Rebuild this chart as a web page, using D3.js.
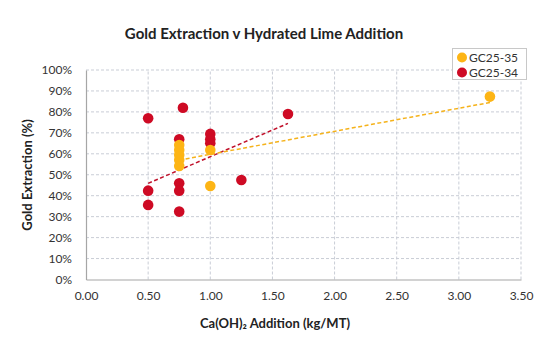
<!DOCTYPE html>
<html><head><meta charset="utf-8">
<script src="https://cdn.jsdelivr.net/npm/d3@7"></script>
<style>body{margin:0;background:#fff}svg{display:block}text{font-family:Lato,"Open Sans",sans-serif}</style>
</head><body><svg id="c" width="550" height="344"></svg>
<script>
const xTicks = [0,0.5,1,1.5,2,2.5,3,3.5];
const yTicks = [0,10,20,30,40,50,60,70,80,90,100];
const seriesNames = ["GC25-35","GC25-34"];
const seriesColors = ["#FDB515","#CE0A24"];
const gc35x = [0.75,0.75,0.75,0.75,0.75,1.0,1.0,3.25];
const gc35y = [64.2,61.8,59.4,57.0,54.2,61.8,44.6,87.3];
const gc34x = [0.5,0.5,0.5,0.78,0.75,0.75,0.75,0.75,1.0,1.0,1.0,1.25,1.625];
const gc34y = [77.0,42.4,35.6,82.0,66.9,45.9,42.4,32.4,69.5,67.0,65.0,47.5,79.0];
const trend35x = [0.75,3.25], trend35y = [57.0,84.5];
const trend34x = [0.5,1.625], trend34y = [45.9,74.5];

const svg = d3.select("#c");
const x = d3.scaleLinear().domain([0,3.5]).range([86,521]);
const y = d3.scaleLinear().domain([0,100]).range([279.5,70]);

// title
svg.append("text").attr("x",264).attr("y",39).attr("text-anchor","middle")
  .attr("font-size",15).attr("font-weight","bold").attr("fill","#222").text("Gold Extraction v Hydrated Lime Addition");

// grid
const grid = svg.append("g");
grid.selectAll("line.h").data(yTicks.filter(d=>d>0)).join("line")
  .attr("x1",x(0)).attr("x2",x(3.5)).attr("y1",d=>y(d)).attr("y2",d=>y(d))
  .attr("stroke","#c9cdd6").attr("stroke-width",1).attr("stroke-dasharray","3,2");
grid.selectAll("line.v").data(xTicks.filter(d=>d>0)).join("line")
  .attr("x1",d=>x(d)).attr("x2",d=>x(d)).attr("y1",y(0)).attr("y2",y(100))
  .attr("stroke","#c9cdd6").attr("stroke-width",1).attr("stroke-dasharray","3,2");

// axes
const xa = svg.append("g").attr("transform",`translate(0,${y(0)})`)
  .call(d3.axisBottom(x).tickValues(xTicks).tickFormat(d3.format(".2f")).tickSize(0).tickPadding(12));
const ya = svg.append("g").attr("transform",`translate(${x(0)},0)`)
  .call(d3.axisLeft(y).tickValues(yTicks).tickFormat(d=>d+"%").tickSize(0).tickPadding(14));
[xa,ya].forEach(a=>{
  a.select(".domain").attr("stroke","#a6a6a6").attr("stroke-width",1.2);
  a.selectAll("text").attr("font-size",12).attr("fill","#333").attr("font-family","Lato");
});

// axis titles
svg.append("text").attr("x",275).attr("y",328).attr("text-anchor","middle")
  .attr("font-size",13).attr("font-weight","bold").attr("fill","#222").text("Ca(OH)₂ Addition (kg/MT)");
svg.append("text").attr("transform","translate(32,175) rotate(-90)").attr("text-anchor","middle")
  .attr("font-size",13).attr("font-weight","bold").attr("fill","#222").text("Gold Extraction (%)");

// trendlines
const line = d3.line().x(d=>x(d[0])).y(d=>y(d[1]));
svg.append("path").attr("d",line(d3.zip(trend34x,trend34y))).attr("stroke","#C0102A")
  .attr("stroke-width",1.5).attr("stroke-dasharray","4,2.5").attr("fill","none");
svg.append("path").attr("d",line(d3.zip(trend35x,trend35y))).attr("stroke","#F5B21A")
  .attr("stroke-width",1.5).attr("stroke-dasharray","4,2.5").attr("fill","none");

// points
svg.append("g").selectAll("circle").data(d3.zip(gc34x,gc34y)).join("circle")
  .attr("cx",d=>x(d[0])).attr("cy",d=>y(d[1])).attr("r",5.3).attr("fill",seriesColors[1]);
svg.append("g").selectAll("circle").data(d3.zip(gc35x,gc35y)).join("circle")
  .attr("cx",d=>x(d[0])).attr("cy",d=>y(d[1])).attr("r",5.3).attr("fill",seriesColors[0]);

// legend
const lg = svg.append("g");
lg.append("rect").attr("x",452.5).attr("y",48.5).attr("width",74).attr("height",31)
  .attr("fill","#fff").attr("stroke","#c8c8c8");
seriesNames.forEach((n,i)=>{
  lg.append("circle").attr("cx",462).attr("cy",57.5+i*15).attr("r",5).attr("fill",seriesColors[i]);
  lg.append("text").attr("x",469).attr("y",57.5+i*15).attr("dy","0.35em").attr("font-size",12)
    .attr("fill","#333").text(n);
});
</script></body></html>
